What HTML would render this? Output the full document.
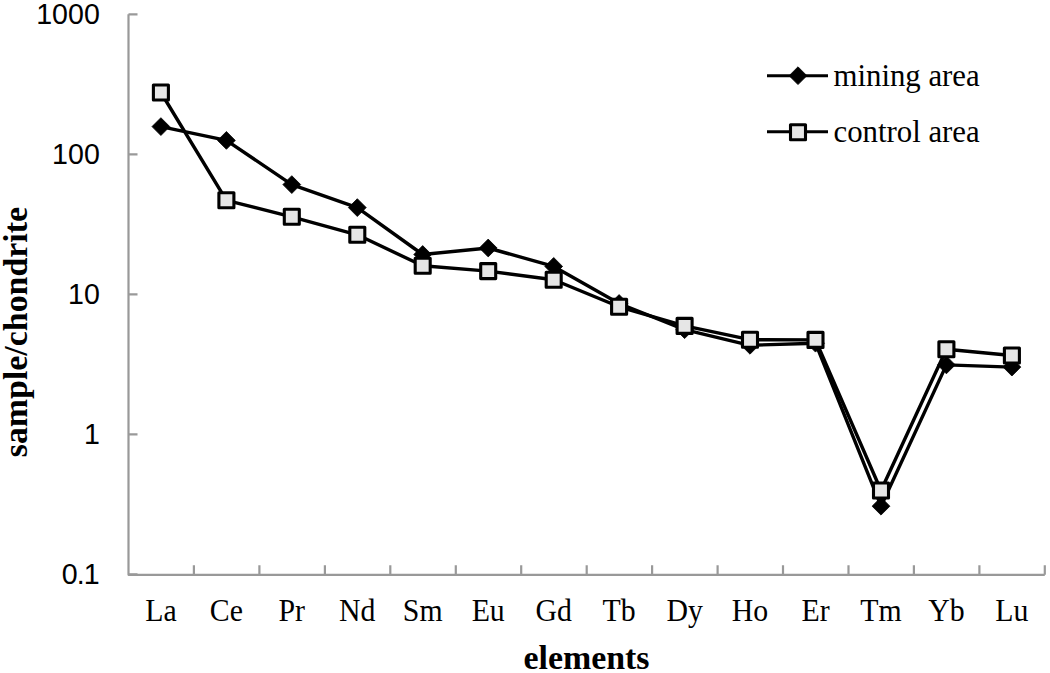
<!DOCTYPE html>
<html><head><meta charset="utf-8"><style>
html,body{margin:0;padding:0;background:#fff;}
body{width:1050px;height:673px;overflow:hidden;}
svg{display:block;}
.ys{font-family:"Liberation Sans",sans-serif;font-size:28.6px;fill:#000;}
.xs{font-family:"Liberation Serif",serif;font-size:29.8px;fill:#000;}
.lg{font-family:"Liberation Serif",serif;font-size:30.8px;fill:#000;}
.tt{font-family:"Liberation Serif",serif;font-size:33.9px;font-weight:bold;fill:#000;}
</style></head><body>
<svg width="1050" height="673" viewBox="0 0 1050 673">
<path d="M128.5 14.3V574.8H1044.8" fill="none" stroke="#999999" stroke-width="2.2" stroke-linejoin="round"/>
<path d="M128.5 14.3h9M128.5 154.3h9M128.5 294.3h9M128.5 434.3h9M128.5 574.3h9M193.9 574.8v-9.5M259.4 574.8v-9.5M324.9 574.8v-9.5M390.3 574.8v-9.5M455.8 574.8v-9.5M521.2 574.8v-9.5M586.7 574.8v-9.5M652.1 574.8v-9.5M717.6 574.8v-9.5M783.0 574.8v-9.5M848.5 574.8v-9.5M913.9 574.8v-9.5M979.4 574.8v-9.5M1044.8 574.8v-9.5" fill="none" stroke="#999999" stroke-width="2.2"/>
<text x="99.8" y="23.6" text-anchor="end" class="ys">1000</text>
<text x="99.8" y="163.6" text-anchor="end" class="ys">100</text>
<text x="99.8" y="303.6" text-anchor="end" class="ys">10</text>
<text x="99.8" y="443.6" text-anchor="end" class="ys">1</text>
<text x="98.8" y="583.5" text-anchor="end" class="ys" letter-spacing="-0.9">0.1</text>
<text transform="translate(160.9 620.6) scale(1 1.08)" text-anchor="middle" class="xs">La</text>
<text transform="translate(226.4 620.6) scale(1 1.08)" text-anchor="middle" class="xs">Ce</text>
<text transform="translate(291.8 620.6) scale(1 1.08)" text-anchor="middle" class="xs">Pr</text>
<text transform="translate(357.3 620.6) scale(1 1.08)" text-anchor="middle" class="xs">Nd</text>
<text transform="translate(422.7 620.6) scale(1 1.08)" text-anchor="middle" class="xs">Sm</text>
<text transform="translate(488.2 620.6) scale(1 1.08)" text-anchor="middle" class="xs">Eu</text>
<text transform="translate(553.7 620.6) scale(1 1.08)" text-anchor="middle" class="xs">Gd</text>
<text transform="translate(619.1 620.6) scale(1 1.08)" text-anchor="middle" class="xs">Tb</text>
<text transform="translate(684.6 620.6) scale(1 1.08)" text-anchor="middle" class="xs">Dy</text>
<text transform="translate(750.0 620.6) scale(1 1.08)" text-anchor="middle" class="xs">Ho</text>
<text transform="translate(815.5 620.6) scale(1 1.08)" text-anchor="middle" class="xs">Er</text>
<text transform="translate(881.0 620.6) scale(1 1.08)" text-anchor="middle" class="xs">Tm</text>
<text transform="translate(946.4 620.6) scale(1 1.08)" text-anchor="middle" class="xs">Yb</text>
<text transform="translate(1011.9 620.6) scale(1 1.08)" text-anchor="middle" class="xs">Lu</text>
<polyline points="160.9,126.6 226.4,140.4 291.8,184.6 357.3,207.6 422.7,254.5 488.2,248.0 553.7,266.4 619.1,303.5 684.6,329.7 750.0,345.3 815.5,343.2 881.0,506.2 946.4,364.9 1011.9,367.1" fill="none" stroke="#000" stroke-width="3.4" stroke-linejoin="round"/>
<path d="M160.9 117.7L169.8 126.6L160.9 135.5L152.0 126.6Z" fill="#000" stroke="#000" stroke-width="0.8" stroke-linejoin="round"/>
<path d="M226.4 131.5L235.3 140.4L226.4 149.3L217.5 140.4Z" fill="#000" stroke="#000" stroke-width="0.8" stroke-linejoin="round"/>
<path d="M291.8 175.7L300.7 184.6L291.8 193.5L282.9 184.6Z" fill="#000" stroke="#000" stroke-width="0.8" stroke-linejoin="round"/>
<path d="M357.3 198.7L366.2 207.6L357.3 216.5L348.4 207.6Z" fill="#000" stroke="#000" stroke-width="0.8" stroke-linejoin="round"/>
<path d="M422.7 245.6L431.6 254.5L422.7 263.4L413.8 254.5Z" fill="#000" stroke="#000" stroke-width="0.8" stroke-linejoin="round"/>
<path d="M488.2 239.1L497.1 248.0L488.2 256.9L479.3 248.0Z" fill="#000" stroke="#000" stroke-width="0.8" stroke-linejoin="round"/>
<path d="M553.7 257.5L562.6 266.4L553.7 275.3L544.8 266.4Z" fill="#000" stroke="#000" stroke-width="0.8" stroke-linejoin="round"/>
<path d="M619.1 294.6L628.0 303.5L619.1 312.4L610.2 303.5Z" fill="#000" stroke="#000" stroke-width="0.8" stroke-linejoin="round"/>
<path d="M684.6 320.8L693.5 329.7L684.6 338.6L675.7 329.7Z" fill="#000" stroke="#000" stroke-width="0.8" stroke-linejoin="round"/>
<path d="M750.0 336.4L758.9 345.3L750.0 354.2L741.1 345.3Z" fill="#000" stroke="#000" stroke-width="0.8" stroke-linejoin="round"/>
<path d="M815.5 334.3L824.4 343.2L815.5 352.1L806.6 343.2Z" fill="#000" stroke="#000" stroke-width="0.8" stroke-linejoin="round"/>
<path d="M881.0 497.3L889.9 506.2L881.0 515.1L872.1 506.2Z" fill="#000" stroke="#000" stroke-width="0.8" stroke-linejoin="round"/>
<path d="M946.4 356.0L955.3 364.9L946.4 373.8L937.5 364.9Z" fill="#000" stroke="#000" stroke-width="0.8" stroke-linejoin="round"/>
<path d="M1011.9 358.2L1020.8 367.1L1011.9 376.0L1003.0 367.1Z" fill="#000" stroke="#000" stroke-width="0.8" stroke-linejoin="round"/>
<polyline points="160.9,92.5 226.4,200.3 291.8,216.8 357.3,234.8 422.7,265.8 488.2,271.1 553.7,279.8 619.1,306.8 684.6,325.9 750.0,339.7 815.5,339.9 881.0,490.5 946.4,349.3 1011.9,355.5" fill="none" stroke="#000" stroke-width="3.4" stroke-linejoin="round"/>
<rect x="153.4" y="85.0" width="15.0" height="15.0" fill="#e6e6e6" stroke="#000" stroke-width="3.1" stroke-linejoin="round"/>
<rect x="218.9" y="192.8" width="15.0" height="15.0" fill="#e6e6e6" stroke="#000" stroke-width="3.1" stroke-linejoin="round"/>
<rect x="284.3" y="209.3" width="15.0" height="15.0" fill="#e6e6e6" stroke="#000" stroke-width="3.1" stroke-linejoin="round"/>
<rect x="349.8" y="227.3" width="15.0" height="15.0" fill="#e6e6e6" stroke="#000" stroke-width="3.1" stroke-linejoin="round"/>
<rect x="415.2" y="258.3" width="15.0" height="15.0" fill="#e6e6e6" stroke="#000" stroke-width="3.1" stroke-linejoin="round"/>
<rect x="480.7" y="263.6" width="15.0" height="15.0" fill="#e6e6e6" stroke="#000" stroke-width="3.1" stroke-linejoin="round"/>
<rect x="546.2" y="272.3" width="15.0" height="15.0" fill="#e6e6e6" stroke="#000" stroke-width="3.1" stroke-linejoin="round"/>
<rect x="611.6" y="299.3" width="15.0" height="15.0" fill="#e6e6e6" stroke="#000" stroke-width="3.1" stroke-linejoin="round"/>
<rect x="677.1" y="318.4" width="15.0" height="15.0" fill="#e6e6e6" stroke="#000" stroke-width="3.1" stroke-linejoin="round"/>
<rect x="742.5" y="332.2" width="15.0" height="15.0" fill="#e6e6e6" stroke="#000" stroke-width="3.1" stroke-linejoin="round"/>
<rect x="808.0" y="332.4" width="15.0" height="15.0" fill="#e6e6e6" stroke="#000" stroke-width="3.1" stroke-linejoin="round"/>
<rect x="873.5" y="483.0" width="15.0" height="15.0" fill="#e6e6e6" stroke="#000" stroke-width="3.1" stroke-linejoin="round"/>
<rect x="938.9" y="341.8" width="15.0" height="15.0" fill="#e6e6e6" stroke="#000" stroke-width="3.1" stroke-linejoin="round"/>
<rect x="1004.4" y="348.0" width="15.0" height="15.0" fill="#e6e6e6" stroke="#000" stroke-width="3.1" stroke-linejoin="round"/>
<path d="M767 75.7H828M767 131.7H828" stroke="#000" stroke-width="3"/>
<path d="M798.0 66.8L806.9 75.7L798.0 84.6L789.1 75.7Z" fill="#000" stroke="#000" stroke-width="0.8" stroke-linejoin="round"/>
<rect x="790.5" y="124.7" width="15.0" height="15.0" fill="#e6e6e6" stroke="#000" stroke-width="3.1" stroke-linejoin="round"/>
<text transform="translate(833.5 85.5) scale(1 1.04)" class="lg">mining area</text>
<text transform="translate(833.5 141.5) scale(1 1.04)" class="lg">control area</text>
<text x="586.5" y="668.6" text-anchor="middle" class="tt">elements</text>
<text transform="translate(27.1 332.1) rotate(-90)" text-anchor="middle" class="tt">sample/chondrite</text>
</svg>
</body></html>
